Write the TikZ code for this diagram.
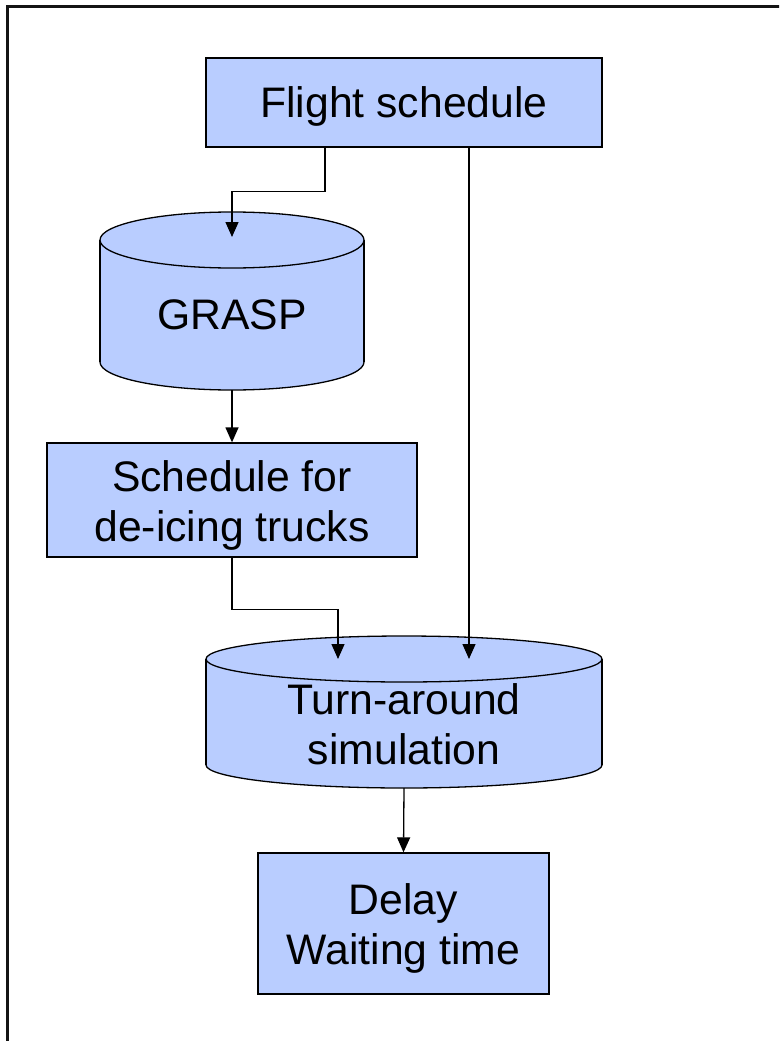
\documentclass[tikz,border=0pt]{standalone}
\usepackage{fontspec}
\setmainfont{Liberation Sans}
\usetikzlibrary{arrows.meta}
\definecolor{boxfill}{RGB}{185,205,255}
\definecolor{framegray}{RGB}{20,20,20}

% drum (cylinder) outline: centre x, top-ellipse y, bottom-ellipse y, x radius, y radius
\newcommand\drumshape[5]{%
  \fill[boxfill] (#1-#4,#2) rectangle (#1+#4,#3);
  \fill[boxfill] (#1,#3) ellipse [x radius=#4, y radius=#5];
  \begin{scope}
    \clip (#1-#4-3,#3) rectangle (#1+#4+3,#3+#5+3);
    \draw[edge] (#1,#3) ellipse [x radius=#4, y radius=#5];
  \end{scope}
  \draw[edge] (#1-#4,#2) -- (#1-#4,#3) (#1+#4,#2) -- (#1+#4,#3);
  \draw[edge, fill=boxfill] (#1,#2) ellipse [x radius=#4, y radius=#5];
}

\begin{document}
\begin{tikzpicture}[x=1pt, y=-1pt,
  edge/.style={draw=black, line width=1.3pt},
  box/.style={edge, fill=boxfill, rectangle, inner sep=0pt},
  label/.style={align=center, inner sep=0pt, font=\fontsize{42.7}{50}\selectfont},
  conn/.style={edge, -{Triangle[length=15pt, width=13pt]}},
  frame/.style={draw=framegray, line width=2.8pt}]

\useasboundingbox (0,0) rectangle (779,1041);
\clip (0,0) rectangle (779,1041);
\fill[white] (0,0) rectangle (779,1041);

% page frame, running off the right and bottom edges
\draw[frame] (7.3,6.5) rectangle (800,1060);

% rectangular boxes and their texts
\node[box, minimum width=396, minimum height=89] (flight) at (404,102.5) {};
\node[label] (flight-text) at (404,106) {Flight schedule};
\node[box, minimum width=370, minimum height=114] (sched) at (232,500) {};
\node[label] (sched-text) at (232,505.5) {Schedule for\\de-icing trucks};
\node[box, minimum width=291, minimum height=141] (delay) at (403.5,923.5) {};
\node[label] (delay-text) at (403.5,928.5) {Delay\\Waiting time};

% drums
\drumshape{232}{240}{362}{132}{28}
\node[label] (grasp) at (232,315) {GRASP};
\coordinate (grasp-in) at (232,237);
\coordinate (grasp-out) at (232,390);

\drumshape{404}{659}{765}{198}{23}
\node[label] (sim) at (404,724) {Turn-around\\simulation};
\coordinate (sim-in1) at (338,659);
\coordinate (sim-in2) at (469,659);
\coordinate (sim-out) at (404,788);

% connectors
\draw[conn] ([xshift=-79pt]flight.south) -- ++(0,44) -| (grasp-in);
\draw[conn] (grasp-out) -- (sched.north);
\draw[conn] (sched.south) -- ++(0,52) -| (sim-in1);
\draw[conn] ([xshift=65pt]flight.south) -- (sim-in2);
\draw[conn] (sim-out) -- (delay.north);
\end{tikzpicture}
\end{document}
